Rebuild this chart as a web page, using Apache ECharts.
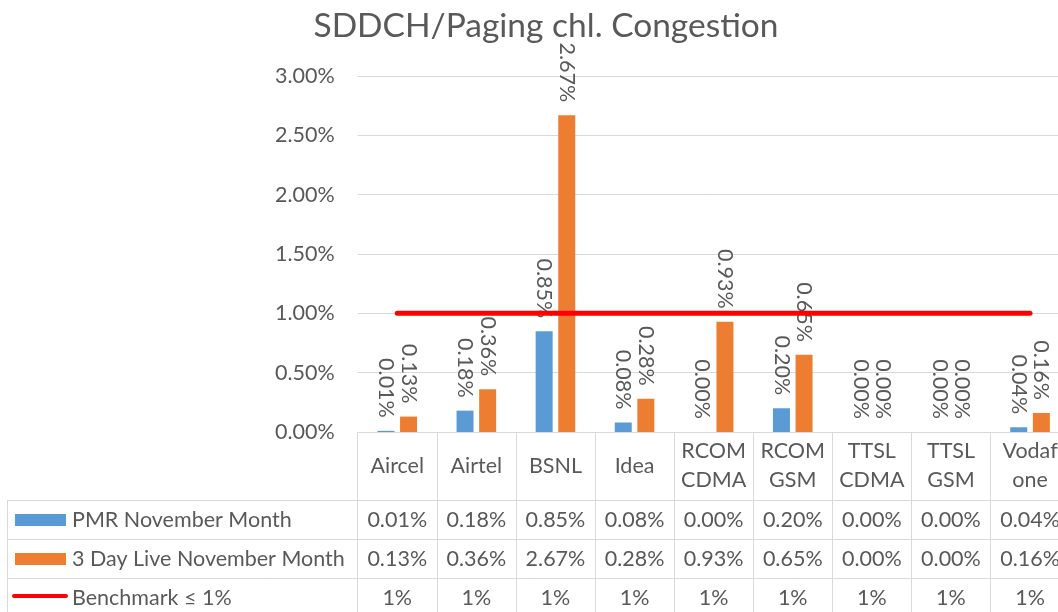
<!DOCTYPE html>
<html>
<head>
<meta charset="utf-8">
<script src="https://cdn.jsdelivr.net/npm/echarts@6/dist/echarts.min.js"></script>
<style>
html, body { margin: 0; padding: 0; background: #fff; }
#chart { width: 1058px; height: 612px; }
</style>
</head>
<body>
<div id="chart"></div>
<script>
// chart data
var categories = ['Aircel', 'Airtel', 'BSNL', 'Idea', 'RCOM CDMA', 'RCOM GSM', 'TTSL CDMA', 'TTSL GSM', 'Vodafone'];
var pmrNov = [0.01, 0.18, 0.85, 0.08, 0.00, 0.20, 0.00, 0.00, 0.04];
var liveNov = [0.13, 0.36, 2.67, 0.28, 0.93, 0.65, 0.00, 0.00, 0.16];
var benchmark = [1, 1, 1, 1, 1, 1, 1, 1, 1];
var seriesNames = ['PMR November Month', '3 Day Live November Month', 'Benchmark \u2264 1%'];
var seriesColors = ['#5B9BD5', '#ED7D31', '#FF0000'];
var yMin = 0, yMax = 3, yStep = 0.5;

var FONT = 'Lato, "Noto Sans", sans-serif';
var FS = 21.5;
var TXT = '#595959';
var LINE = '#D9D9D9';

function pct2(v) { return v.toFixed(2) + '%'; }

// the cells are narrow: one word per line, long words cut like Excel does
function wrapCat(v) {
    return v.split(' ').map(function (w) {
        return w.length > 6 ? w.slice(0, 5) + '\n' + w.slice(5) : w;
    }).join('\n');
}

var barLabel = {
    show: true,
    position: 'top',
    rotate: -90,
    align: 'right',
    verticalAlign: 'middle',
    distance: 13,
    color: TXT,
    fontFamily: FONT,
    fontSize: FS,
    formatter: function (p) { return pct2(p.value); }
};

var option = {
    animation: false,
    title: {
        text: 'SDDCH/Paging chl. Congestion',
        left: 541,
        textAlign: 'center',
        top: 4,
        textStyle: { color: TXT, fontFamily: FONT, fontSize: 33.5, fontWeight: 'normal' }
    },
    grid: { left: 357.7, top: 76, width: 711.9, height: 356, outerBoundsMode: 'none', containLabel: false },
    xAxis: {
        type: 'category',
        data: categories,
        axisLine: { lineStyle: { color: LINE, width: 1 } },
        axisTick: { show: true, interval: 0, length: 190, lineStyle: { color: LINE, width: 1 } },
        axisLabel: {
            interval: 0,
            color: TXT,
            fontFamily: FONT,
            fontSize: FS,
            margin: 34,
            verticalAlign: 'middle',
            lineHeight: 29,
            formatter: wrapCat
        }
    },
    yAxis: {
        type: 'value',
        min: yMin,
        max: yMax,
        interval: yStep,
        axisLine: { show: false },
        axisTick: { show: false },
        splitLine: { lineStyle: { color: LINE, width: 1 } },
        axisLabel: { color: TXT, fontFamily: FONT, fontSize: FS, margin: 23, formatter: pct2 }
    },
    series: [
        {
            name: seriesNames[0],
            type: 'bar',
            data: pmrNov,
            barWidth: 17,
            barGap: '33%',
            itemStyle: { color: seriesColors[0] },
            label: barLabel
        },
        {
            name: seriesNames[1],
            type: 'bar',
            data: liveNov,
            barWidth: 17,
            barGap: '33%',
            itemStyle: { color: seriesColors[1] },
            label: barLabel
        },
        {
            name: seriesNames[2],
            type: 'line',
            data: benchmark,
            symbol: 'none',
            z: 5,
            lineStyle: { color: seriesColors[2], width: 5, cap: 'round' }
        }
    ]
};

var chart = echarts.init(document.getElementById('chart'));
chart.setOption(option);

// data table under the plot
var rowLines = [500, 539, 578, 617];
var tableLeft = 7.5;
var x0 = chart.convertToPixel({ xAxisIndex: 0 }, 0);
var x1 = chart.convertToPixel({ xAxisIndex: 0 }, 1);
var catW = x1 - x0;
var plotLeft = x0 - catW / 2;
var tableRight = plotLeft + catW * categories.length;
var rows = [
    pmrNov.map(pct2),
    liveNov.map(pct2),
    benchmark.map(function (v) { return v + '%'; })
];

var els = [];
rowLines.forEach(function (y) {
    els.push({ type: 'line', shape: { x1: tableLeft, y1: y + 0.5, x2: tableRight, y2: y + 0.5 },
        style: { stroke: LINE, lineWidth: 1 }, silent: true });
});
els.push({ type: 'line', shape: { x1: tableLeft, y1: rowLines[0], x2: tableLeft, y2: rowLines[3] },
    style: { stroke: LINE, lineWidth: 1 }, silent: true });

rows.forEach(function (row, r) {
    var yMid = (rowLines[r] + rowLines[r + 1]) / 2 + 0.5;
    // legend key
    if (r < 2) {
        els.push({ type: 'rect', shape: { x: 15, y: yMid - 6, width: 51, height: 12 },
            style: { fill: seriesColors[r] }, silent: true });
    } else {
        els.push({ type: 'line', shape: { x1: 14, y1: yMid - 2, x2: 66, y2: yMid - 2 },
            style: { stroke: seriesColors[r], lineWidth: 4, lineCap: 'round' }, silent: true });
    }
    els.push({ type: 'text', x: 72, y: yMid, silent: true,
        style: { text: seriesNames[r], fill: TXT, fontFamily: FONT, fontSize: FS, align: 'left', verticalAlign: 'middle' } });
    row.forEach(function (t, i) {
        var cx = chart.convertToPixel({ xAxisIndex: 0 }, i);
        els.push({ type: 'text', x: cx, y: yMid, silent: true,
            style: { text: t, fill: TXT, fontFamily: FONT, fontSize: FS, align: 'center', verticalAlign: 'middle' } });
    });
});

chart.setOption({ graphic: { elements: els } });
</script>
</body>
</html>
